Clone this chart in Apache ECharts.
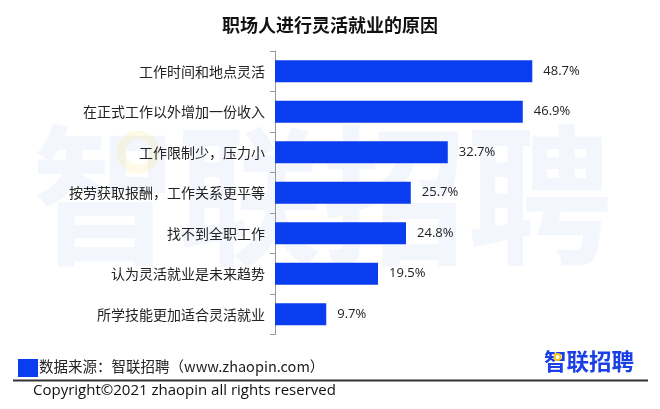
<!DOCTYPE html>
<html>
<head>
<meta charset="utf-8">
<script src="https://cdn.jsdelivr.net/npm/echarts@6/dist/echarts.min.js"></script>
<style>
html,body{margin:0;padding:0;background:#fff;}
#c{width:660px;height:409px;}
</style>
</head>
<body>
<div id="c"></div>
<script>
const categories = ['工作时间和地点灵活','在正式工作以外增加一份收入','工作限制少，压力小','按劳获取报酬，工作关系更平等','找不到全职工作','认为灵活就业是未来趋势','所学技能更加适合灵活就业'];
const values = [48.7, 46.9, 32.7, 25.7, 24.8, 19.5, 9.7];
const titleText = '职场人进行灵活就业的原因';
const sourceText = '数据来源：智联招聘（www.zhaopin.com）';
const copyrightText = 'Copyright©2021 zhaopin all rights reserved';
const logoText = '智联招聘';

const chart = echarts.init(document.getElementById('c'));
const FONT = '"Noto Sans CJK SC","Noto Sans",sans-serif';
chart.setOption({
  animation: false,
  backgroundColor: '#fff',
  title: {
    text: titleText, left: 'center', top: 11,
    textStyle: {fontSize: 18, fontWeight: 'bold', color: '#111', fontFamily: FONT}
  },
  graphic: [
    {type: 'text', z: -10, scaleY: 1.04, originX: 322, originY: 196, style: {x: 322, y: 196, text: '智联招聘', fontSize: 145, fontWeight: 'bold', align: 'center', verticalAlign: 'middle', fill: 'rgba(30,70,220,0.05)', fontFamily: FONT}},
    {type: 'circle', z: -9, shape: {cx: 138, cy: 152, r: 17}, style: {fill: 'none', stroke: 'rgba(250,215,70,0.13)', lineWidth: 9}},
    {type: 'rect', shape: {x: 18, y: 359, width: 20, height: 18}, style: {fill: '#0a3cf0'}},
    {type: 'text', left: 39, top: 359, style: {text: sourceText, fontSize: 14.5, fill: '#222', fontFamily: FONT}},
    {type: 'line', shape: {x1: 13, y1: 380.5, x2: 648, y2: 380.5}, style: {stroke: '#333', lineWidth: 2}},
    {type: 'text', left: 33, top: 383, style: {text: copyrightText, fontSize: 15, fill: '#111', fontFamily: '"Open Sans",sans-serif'}},
    {type: 'text', left: 544, top: 350, style: {text: logoText, fontSize: 22.5, fontWeight: 'bold', fill: '#1a3fe6', fontFamily: FONT}},
    {type: 'circle', shape: {cx: 557.5, cy: 357, r: 3}, style: {fill: '#fff', stroke: '#f5c518', lineWidth: 2}}
  ],
  grid: {left: 275, top: 51, height: 283.5, width: 317, containLabel: false},
  xAxis: {
    type: 'value', min: 0, max: 60, show: false
  },
  yAxis: {
    type: 'category', data: categories, inverse: true,
    axisLine: {show: true, lineStyle: {color: '#999', width: 1}},
    axisTick: {show: true, length: 5, lineStyle: {color: '#999'}},
    axisLabel: {fontSize: 14, color: '#222', margin: 10, fontFamily: FONT}
  },
  series: [{
    type: 'bar', data: values, barWidth: 22,
    itemStyle: {color: '#0a3cf0'},
    label: {show: true, position: 'right', distance: 11, formatter: p => p.value.toFixed(1) + '%', fontSize: 13, color: '#222', fontFamily: '"Open Sans",sans-serif'}
  }]
});
</script>
</body>
</html>
